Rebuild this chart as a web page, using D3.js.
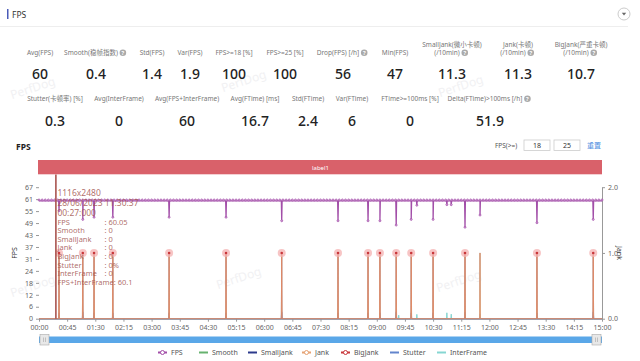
<!doctype html>
<html>
<head>
<meta charset="utf-8">
<title>FPS</title>
<script src="https://cdn.jsdelivr.net/npm/d3@7"></script>
<style>
  body { margin: 0; background: #fff; }
  text { font-family: 'Noto Sans', 'Noto Sans CJK SC', sans-serif; }
  .lbl { font-size: 6.5px; fill: #777; text-anchor: middle; }
  .val { font-size: 14px; fill: #222; text-anchor: middle; font-weight: 500; }
  .axis text { font-size: 7px; fill: #666; }
  .axis line, .axis path { stroke: #999; }
  .tip { font-size: 7.5px; fill: #a2544f; fill-opacity: 0.85; }
</style>
</head>
<body>
<svg id="chart" width="640" height="361"></svg>
<script>
// ---- data ----
const row1Labels = [["Avg(FPS)"], ["Smooth(稳帧指数)"], ["Std(FPS)"], ["Var(FPS)"], ["FPS>=18 [%]"], ["FPS>=25 [%]"],
  ["Drop(FPS) [/h]"], ["Min(FPS)"], ["SmallJank(微小卡顿)", "(/10min)"], ["Jank(卡顿)", "(/10min)"], ["BigJank(严重卡顿)", "(/10min)"]];
const row1Values = ["60", "0.4", "1.4", "1.9", "100", "100", "56", "47", "11.3", "11.3", "10.7"];
const row1Help = [false, true, false, false, false, false, true, false, true, true, true];
const row2Labels = [["Stutter(卡顿率) [%]"], ["Avg(InterFrame)"], ["Avg(FPS+InterFrame)"], ["Avg(FTime) [ms]"], ["Std(FTime)"],
  ["Var(FTime)"], ["FTime>=100ms [%]"], ["Delta(FTime)>100ms [/h]"]];
const row2Values = ["0.3", "0", "60", "16.7", "2.4", "6", "0", "51.9"];
const row2Help = [false, false, false, false, false, false, false, true];

const xTickLabels = ["00:00","00:45","01:30","02:15","03:00","03:45","04:30","05:15","06:00","06:45","07:30",
  "08:15","09:00","09:45","10:30","11:15","12:00","12:45","13:30","14:15","15:00"];
const yTickLabels = ["0","6","12","18","24","31","37","43","49","55","61","67"];
const yRightTicks = [0, 1, 2];

// seconds from start
const fpsBase = 60;
const fpsSampleStep = 5;
const fpsDips = [[32,55],[70,50.6],[88,51.7],[118,51.7],[208,51.7],[299,51.7],[388,49.9],[478,49.9],[526,49.9],
  [545,49.9],[571,47.7],[595,50.6],[604,57.8],[630,50.6],[652,58.1],[659,58.1],[681,46.6],[705,52.8],[796,48.9],[886,50.6]];
const jankTimes = [32,70,88,118,208,299,388,478,526,545,571,595,630,681,705,796,886];
const bigJankTimes = [32,70,88,118,208,299,388,478,526,545,571,595,630,681,796,886];
const stutterValues = [3,3.5,3,3,3,3,3.5,3,3,3,3.5,3,3,3.5,2.5,3,3.5]; // at jankTimes
const interFrame = [[575,1.8],[604,2.2],[652,3],[659,2.3]];

const tipLines = [["FPS", ": 60.05"], ["Smooth", ": 0"], ["SmallJank", ": 0"], ["Jank", ": 0"], ["BigJank", ": 0"],
  ["Stutter", ": 0%"], ["InterFrame", ": 0"]];
const tipLast = "FPS+InterFrame: 60.1";
const tipTime = 27;

const legendNames = ["FPS", "Smooth", "SmallJank", "Jank", "BigJank", "Stutter", "InterFrame"];
const colors = {FPS: "#a24ea8", Smooth: "#67b26f", SmallJank: "#2c3a8c", Jank: "#e6a273",
  BigJank: "#c8373b", Stutter: "#6285cc", InterFrame: "#86d6d2"};

// ---- drawing ----
const svg = d3.select("#chart");

// watermarks
[[34, 92], [245, 85], [462, 90], [34, 290], [240, 282], [460, 285]].forEach(p => {
  svg.append("text").attr("transform", `translate(${p[0]},${p[1]}) rotate(-18)`)
    .attr("text-anchor", "middle").style("font-size", "12px").style("fill", "#f1f1f3").text("PerfDog");
});

// header
svg.append("rect").attr("x", 7).attr("y", 9).attr("width", 1.5).attr("height", 10).attr("fill", "#4a5bb8");
svg.append("text").attr("x", 12).attr("y", 18).style("font-size", "8.5px").style("fill", "#333").text("FPS");
svg.append("line").attr("x1", 0).attr("x2", 628).attr("y1", 26.5).attr("y2", 26.5).attr("stroke", "#eee");
svg.append("circle").attr("cx", 624).attr("cy", 14).attr("r", 6).attr("fill", "#fff").attr("stroke", "#ccc");
svg.append("path").attr("d", "M621.8,12.8 L626.2,12.8 L624,15.5 Z").attr("fill", "#666");

function helpIcon(x, y) {
  svg.append("circle").attr("cx", x).attr("cy", y).attr("r", 3.3).attr("fill", "#aaa");
  svg.append("text").attr("x", x).attr("y", y + 2.2).attr("text-anchor", "middle")
    .style("font-size", "5.5px").style("fill", "#fff").style("font-weight", "bold").text("?");
}

const row1X = [40, 96, 152, 190, 234, 285, 343, 395, 452, 518, 581];
const row2X = [55, 119, 187, 255, 308, 352, 410, 490];

function metricRow(labels, values, help, xs, yLabel, yValue) {
  labels.forEach((ls, i) => {
    ls.forEach((l, j) => {
      const y = yLabel - (ls.length - 1 - j) * 8.5;
      const withIcon = help[i] && j === ls.length - 1;
      const t = svg.append("text").attr("class", "lbl").attr("x", xs[i] - (withIcon ? 5 : 0)).attr("y", y).text(l);
      if (withIcon) {
        const w = t.node().getComputedTextLength();
        helpIcon(xs[i] - 5 + w / 2 + 5, y - 2.2);
      }
    });
    svg.append("text").attr("class", "val").attr("x", xs[i]).attr("y", yValue).text(values[i]);
  });
}
metricRow(row1Labels, row1Values, row1Help, row1X, 55, 79);
metricRow(row2Labels, row2Values, row2Help, row2X, 101, 126);

// chart header
svg.append("text").attr("x", 16).attr("y", 150).style("font-size", "8.5px").style("font-weight", "bold").style("fill", "#222").text("FPS");
svg.append("text").attr("x", 495).attr("y", 148).style("font-size", "6.5px").style("fill", "#555").text("FPS(>=)");
[["18", 524], ["25", 554]].forEach(b => {
  svg.append("rect").attr("x", b[1]).attr("y", 140).attr("width", 26).attr("height", 10.5).attr("fill", "#fff").attr("stroke", "#ccc").attr("stroke-width", 0.8);
  svg.append("text").attr("x", b[1] + 13).attr("y", 148.2).attr("text-anchor", "middle").style("font-size", "7px").style("fill", "#333").text(b[0]);
});
svg.append("text").attr("x", 594).attr("y", 148.2).attr("text-anchor", "middle").style("font-size", "7px").style("fill", "#4d8ee0").text("重置");

const x = d3.scaleLinear().domain([0, 900]).range([39, 602]);
const yL = d3.scaleLinear().domain([0, 67]).range([318.7, 187.2]);
const yR = d3.scaleLinear().domain([0, 2]).range([318.7, 187.2]);

// label bar
svg.append("rect").attr("x", x(0) - 1).attr("y", 160).attr("width", x(900) - x(0) + 1).attr("height", 14.3).attr("fill", "#d9616a");
svg.append("text").attr("x", (x(0) + x(900)) / 2).attr("y", 169.5).attr("text-anchor", "middle")
  .style("font-size", "6px").style("fill", "#fff").text("label1");

// axes
const yTickVals = yTickLabels.map((d, i) => i * 67 / 11);
svg.append("g").attr("class", "axis").attr("transform", `translate(${x(0)},0)`)
  .call(d3.axisLeft(yL).tickValues(yTickVals).tickFormat((d, i) => yTickLabels[i]).tickSize(3).tickPadding(3))
  .call(g => g.select(".domain").remove());
svg.append("g").attr("class", "axis").attr("transform", `translate(${x(900)},0)`)
  .call(d3.axisRight(yR).tickValues(yRightTicks).tickSize(3).tickPadding(3).tickSizeOuter(0));
svg.append("g").attr("class", "axis").attr("transform", `translate(0,${yL(0)})`)
  .call(d3.axisBottom(x).tickValues(xTickLabels.map((d, i) => i * 45)).tickFormat((d, i) => xTickLabels[i]).tickSize(3).tickPadding(3).tickSizeOuter(0));

svg.append("text").attr("transform", `translate(17,${(yL(0) + yL(67)) / 2}) rotate(-90)`).attr("text-anchor", "middle")
  .style("font-size", "7px").style("fill", "#333").text("FPS");
svg.append("text").attr("transform", `translate(617,${(yL(0) + yL(67)) / 2}) rotate(90)`).attr("text-anchor", "middle")
  .style("font-size", "7px").style("fill", "#333").text("Jank");

// spike helper: turns event list into line points
function spikes(events, base) {
  const pts = [[0, base]];
  events.forEach(e => { pts.push([e[0] - 0.6, base], [e[0], e[1]], [e[0] + 0.6, base]); });
  pts.push([900, base]);
  return pts;
}

const lineL = d3.line().x(d => x(d[0])).y(d => yL(d[1]));
const lineR = d3.line().x(d => x(d[0])).y(d => yR(d[1]));

// InterFrame
svg.append("path").attr("d", lineL(spikes(interFrame, 0))).attr("fill", "none").attr("stroke", colors.InterFrame).attr("stroke-width", 1);
// Stutter
svg.append("path").attr("d", lineL(spikes(jankTimes.map((t, i) => [t, stutterValues[i]]), 0)))
  .attr("fill", "none").attr("stroke", colors.Stutter).attr("stroke-width", 1.2);
// SmallJank / Jank / BigJank
svg.append("path").attr("d", lineR(spikes(jankTimes.map(t => [t, 1]), 0))).attr("fill", "none").attr("stroke", colors.SmallJank).attr("stroke-width", 0.6).attr("stroke-opacity", 0.7);
svg.append("path").attr("d", lineR(spikes(jankTimes.map(t => [t, 1]), 0))).attr("fill", "none").attr("stroke", colors.Jank).attr("stroke-width", 1);
svg.append("path").attr("d", lineR(spikes(bigJankTimes.map(t => [t, 1]), 0))).attr("fill", "none").attr("stroke", colors.BigJank).attr("stroke-width", 0.6).attr("stroke-opacity", 0.25);
svg.append("g").selectAll("circle.halo").data(bigJankTimes).join("circle")
  .attr("cx", d => x(d)).attr("cy", yR(1)).attr("r", 4).attr("fill", "#f4b2b2").attr("fill-opacity", 0.75);
svg.append("g").selectAll("circle.dot").data(bigJankTimes).join("circle")
  .attr("cx", d => x(d)).attr("cy", yR(1)).attr("r", 1.3).attr("fill", colors.BigJank);

// FPS
const fpsPts = [];
const dipMap = new Map(fpsDips.map(d => [d[0], d[1]]));
for (let t = 0; t <= 900; t += fpsSampleStep) fpsPts.push([t, fpsBase]);
fpsDips.forEach(d => fpsPts.push([d[0] - 0.6, fpsBase], [d[0], d[1]], [d[0] + 0.6, fpsBase]));
fpsPts.sort((a, b) => a[0] - b[0]);
svg.append("path").attr("d", lineL(fpsPts)).attr("fill", "none").attr("stroke", colors.FPS).attr("stroke-width", 1.3);
const markers = fpsPts.filter(d => d[0] % fpsSampleStep === 0 || dipMap.has(d[0]));
svg.append("g").selectAll("circle").data(markers).join("circle")
  .attr("cx", d => x(d[0])).attr("cy", d => yL(d[1]) - (d[1] === fpsBase ? 1 : 0)).attr("r", 1)
  .attr("fill", "#d7a9db").attr("stroke", colors.FPS).attr("stroke-width", 0.7);

// tooltip crosshair + text
svg.append("line").attr("x1", x(tipTime)).attr("x2", x(tipTime)).attr("y1", 174.5).attr("y2", yL(0))
  .attr("stroke", "#a9544f").attr("stroke-width", 1.6);
const tipX = x(tipTime) + 1.5;
svg.append("text").attr("class", "tip").attr("x", tipX).attr("y", 195.5).style("font-size", "8.5px").text("1116x2480");
svg.append("text").attr("class", "tip").attr("x", tipX).attr("y", 205.5).style("font-size", "8.5px").text("28/06/2023 11:30:37");
svg.append("text").attr("class", "tip").attr("x", tipX).attr("y", 215.5).style("font-size", "8.5px").text("00:27:000");
tipLines.forEach((l, i) => {
  const y = 224.5 + i * 8.65;
  svg.append("text").attr("class", "tip").attr("x", tipX).attr("y", y).text(l[0]);
  svg.append("text").attr("class", "tip").attr("x", 104.5).attr("y", y).text(l[1]);
});
svg.append("text").attr("class", "tip").attr("x", tipX).attr("y", 224.5 + tipLines.length * 8.65).text(tipLast);

// slider
svg.append("rect").attr("x", x(0)).attr("y", 336.5).attr("width", x(900) - x(0)).attr("height", 6.5).attr("fill", "#5aa7e8");
[x(0) + 1, x(900) - 10].forEach(hx => {
  svg.append("rect").attr("x", hx).attr("y", 334.5).attr("width", 9).attr("height", 10.5).attr("fill", "#e8e8e8").attr("stroke", "#aaa").attr("stroke-width", 0.6);
  svg.append("line").attr("x1", hx + 3.5).attr("x2", hx + 3.5).attr("y1", 337.5).attr("y2", 342).attr("stroke", "#999").attr("stroke-width", 0.5);
  svg.append("line").attr("x1", hx + 5.5).attr("x2", hx + 5.5).attr("y1", 337.5).attr("y2", 342).attr("stroke", "#999").attr("stroke-width", 0.5);
});

// legend
const legendX = [158, 199, 248, 302, 341, 390, 437];
const withSymbol = ["FPS", "Jank", "BigJank"];
legendNames.forEach((n, i) => {
  const lx = legendX[i];
  svg.append("line").attr("x1", lx).attr("x2", lx + 9).attr("y1", 352.5).attr("y2", 352.5).attr("stroke", colors[n]).attr("stroke-width", 2);
  if (withSymbol.includes(n)) {
    svg.append("circle").attr("cx", lx + 4.5).attr("cy", 352.5).attr("r", 2).attr("fill", "#fff").attr("stroke", colors[n]).attr("stroke-width", 1);
  }
  svg.append("text").attr("x", lx + 13).attr("y", 355).style("font-size", "7px").style("fill", "#555").text(n);
});
</script>
</body>
</html>
